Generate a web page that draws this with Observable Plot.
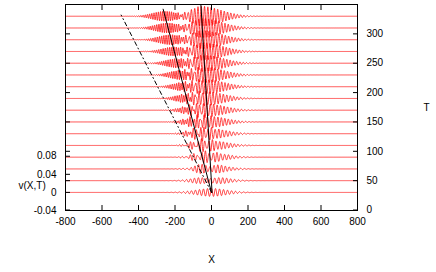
<!DOCTYPE html>
<html><head><meta charset="utf-8">
<script src="https://cdn.jsdelivr.net/npm/d3@7"></script>
<script src="https://cdn.jsdelivr.net/npm/@observablehq/plot@0.6"></script>
<style>body{margin:0;background:#fff} svg{display:block}</style>
</head><body><div id="chart"></div>
<script>
// Traces: one per time T (right axis), each a wave packet v(X,T) offset to its T level
const traceT    = [30, 50, 70, 90, 110, 130, 150, 170, 190, 210, 230, 250, 270, 290, 310, 330];
// slow (left-moving) packet
const centerA   = [0, -15, -35, -50, -70, -85, -105, -120, -140, -155, -170, -190, -205, -225, -240, -255];
const ampA      = [0.002, 0.003, 0.004, 0.005, 0.006, 0.007, 0.008, 0.008, 0.009, 0.009, 0.010, 0.010, 0.010, 0.011, 0.011, 0.011];
const widthA    = [80, 78, 78, 78, 78, 80, 80, 82, 84, 86, 88, 90, 92, 94, 96, 98];
const periodA   = [22, 20, 18, 16, 15, 14, 13, 13, 12, 12, 12, 12, 12, 12, 12, 12];
// near-stationary packet
const centerB   = [0, -5, -8, -12, -15, -20, -22, -26, -30, -34, -38, -42, -45, -50, -52, -56];
const ampB      = [0.007, 0.008, 0.009, 0.010, 0.011, 0.012, 0.013, 0.014, 0.015, 0.016, 0.017, 0.018, 0.019, 0.020, 0.021, 0.022];
const widthBL   = [130, 120, 110, 105, 100, 95, 92, 90, 88, 86, 84, 82, 80, 80, 80, 80];
const widthBR   = [130, 130, 130, 132, 134, 136, 138, 140, 142, 144, 146, 148, 150, 150, 152, 155];
const periodB   = [22, 22, 21, 21, 20, 20, 19, 19, 19, 18, 18, 18, 18, 18, 18, 18];

// black guide lines
const dashedX = [0, -495],  dashedT = [30, 332];
const solidAX = [0, -265],  solidAT = [30, 342];
const solidBX = [3, -58],   solidBT = [30, 349];

const xTicks = [-800, -600, -400, -200, 0, 200, 400, 600, 800];
const tTicks = [0, 50, 100, 150, 200, 250, 300];
const vTicks = [-0.04, 0, 0.04, 0.08];
const vLabels = ["-0.04", "0", "0.04", "0.08"];
const vZeroT = 30;     // v = 0 sits on the T = 30 level
const vToT = 770;      // T units per unit of v

const xs = d3.range(-800, 801, 1);
const rows = [];
traceT.forEach((T, i) => {
  for (const X of xs) {
    const dA = X - centerA[i];
    const dB = X - centerB[i];
    const wB = dB < 0 ? widthBL[i] : widthBR[i];
    const gA = Math.exp(-((dA / widthA[i]) ** 2));
    const gB = Math.exp(-((dB / wB) ** 2));
    const v = ampA[i] * gA * Math.cos(2 * Math.PI * dA / periodA[i])
            + ampB[i] * gB * Math.cos(2 * Math.PI * dB / periodB[i]);
    rows.push({T, X, y: T + v * vToT});
  }
});
const guide = (X, T) => X.map((x, i) => ({X: x, T: T[i]}));

const chart = Plot.plot({
  width: 436, height: 272,
  marginLeft: 65, marginRight: 79, marginTop: 4, marginBottom: 62,
  x: {domain: [-800, 800]},
  y: {domain: [-0.8, 350]},
  style: {fontFamily: "'Liberation Sans', Arial, sans-serif", fontSize: "10px", color: "black", background: "white"},
  marks: [
    Plot.line(rows, {x: "X", y: "y", z: "T", stroke: "#ff0000", strokeWidth: 0.75}),
    Plot.line(guide(dashedX, dashedT), {x: "X", y: "T", stroke: "black", strokeWidth: 1, strokeDasharray: "4,3,1,3"}),
    Plot.line(guide(solidAX, solidAT), {x: "X", y: "T", stroke: "black", strokeWidth: 1}),
    Plot.line(guide(solidBX, solidBT), {x: "X", y: "T", stroke: "black", strokeWidth: 1}),
    Plot.frame({stroke: "black"}),
    Plot.axisX({anchor: "bottom", ticks: xTicks, tickSize: -5, tickPadding: 12, tickFormat: d => String(d), label: null}),
    Plot.axisX({anchor: "top", ticks: xTicks, tickSize: -5, tickFormat: () => "", label: null}),
    Plot.axisY({anchor: "right", ticks: tTicks, tickSize: -5, tickPadding: 14, tickFormat: d => String(d), label: null}),
    Plot.axisY({anchor: "left", ticks: tTicks, tickSize: -5, tickFormat: () => "", label: null}),
    Plot.axisY({anchor: "left", ticks: vTicks.map(v => vZeroT + v * vToT), tickSize: -5, tickPadding: 14,
                tickFormat: (d, i) => vLabels[i], label: null}),
    Plot.text(["X"], {frameAnchor: "bottom", dy: 52, fontSize: 10}),
    Plot.text(["T"], {frameAnchor: "right", dx: 72, fontSize: 10}),
    Plot.text(["v(X,T)"], {frameAnchor: "left", dx: -47, dy: 78, fontSize: 10})
  ]
});
document.getElementById("chart").append(chart);
</script>
</body></html>
